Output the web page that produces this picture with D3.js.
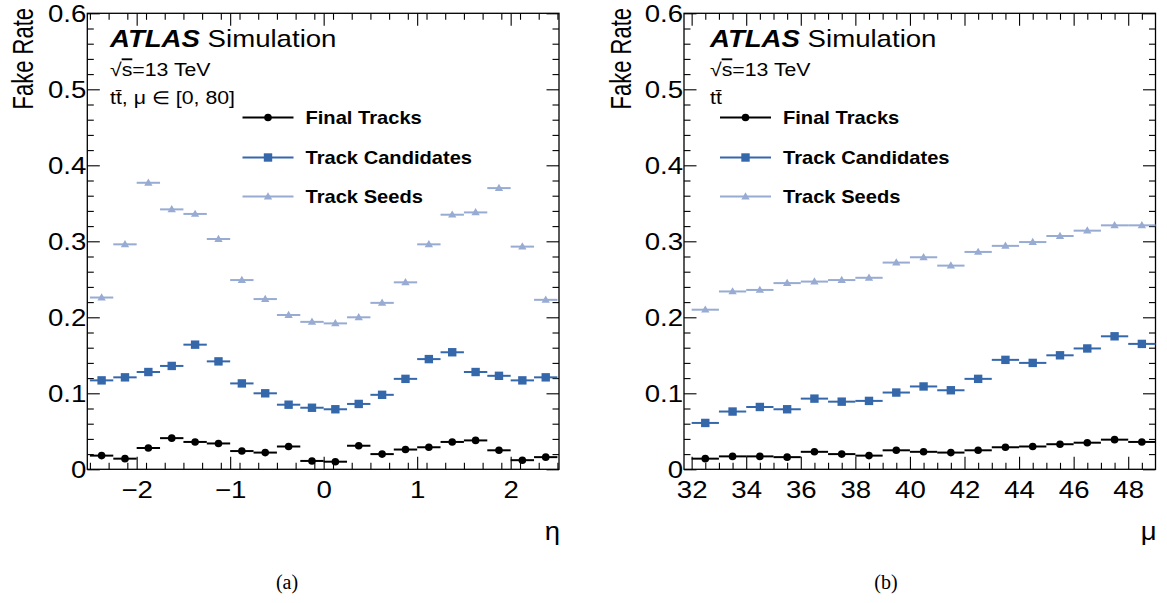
<!DOCTYPE html>
<html>
<head>
<meta charset="utf-8">
<script src="https://cdn.jsdelivr.net/npm/d3@7"></script>
<style>
  html, body { margin: 0; padding: 0; background: #fff; }
  svg { display: block; }
  text { font-family: "Liberation Sans", Arial, Helvetica, sans-serif; fill: #000; }
</style>
</head>
<body>
<svg id="chart" width="1167" height="603"></svg>
<script>
// ---- data: fake rate vs eta (20 bins, width 0.25) ----
const etaBinLow = [-2.5, -2.25, -2.0, -1.75, -1.5, -1.25, -1.0, -0.75, -0.5, -0.25,
                   0.0, 0.25, 0.5, 0.75, 1.0, 1.25, 1.5, 1.75, 2.0, 2.25];
const etaBinWidth = 0.25;
const etaFinal = [0.018, 0.014, 0.028, 0.041, 0.036, 0.034, 0.024, 0.022, 0.030, 0.011,
                  0.010, 0.031, 0.020, 0.026, 0.029, 0.036, 0.038, 0.025, 0.012, 0.016];
const etaCandidates = [0.117, 0.121, 0.128, 0.136, 0.164, 0.142, 0.113, 0.100, 0.085, 0.081,
                       0.079, 0.086, 0.098, 0.119, 0.145, 0.154, 0.128, 0.123, 0.117, 0.121];
const etaSeeds = [0.226, 0.296, 0.377, 0.342, 0.336, 0.303, 0.249, 0.224, 0.203, 0.194,
                  0.192, 0.200, 0.219, 0.246, 0.296, 0.335, 0.338, 0.370, 0.293, 0.223];

// ---- data: fake rate vs pile-up mu (17 bins, width 1) ----
const muBinLow = [32, 33, 34, 35, 36, 37, 38, 39, 40, 41, 42, 43, 44, 45, 46, 47, 48];
const muBinWidth = 1;
const muFinal = [0.014, 0.017, 0.017, 0.016, 0.023, 0.020, 0.018, 0.025, 0.023,
                 0.022, 0.025, 0.029, 0.030, 0.033, 0.035, 0.039, 0.036];
const muCandidates = [0.061, 0.076, 0.082, 0.079, 0.093, 0.089, 0.090, 0.101, 0.109,
                      0.104, 0.119, 0.144, 0.140, 0.150, 0.159, 0.175, 0.165];
const muSeeds = [0.210, 0.234, 0.236, 0.245, 0.247, 0.249, 0.252, 0.272, 0.279,
                 0.268, 0.286, 0.294, 0.299, 0.307, 0.314, 0.321, 0.321];

// ---- tick labels ----
const yMajorTicks = [0, 0.1, 0.2, 0.3, 0.4, 0.5, 0.6];
const etaMajorTicks = [-2, -1, 0, 1, 2];
const muMajorTicks = [32, 34, 36, 38, 40, 42, 44, 46, 48];

const seriesNames = ["Final Tracks", "Track Candidates", "Track Seeds"];
const seriesColors = ["#000000", "#3567ab", "#97abd3"];
const seriesMarkers = ["circle", "square", "triangle"];

const svg = d3.select("#chart");
const SX = 1.15; // horizontal stretch of the ROOT-style glyphs
const TICK_FONT = 24;

function addText(g, x, y, str, size, opts = {}) {
  const t = g.append("text")
    .attr("transform", `translate(${x},${y}) scale(${opts.sx || SX},1)` + (opts.rotate ? ` rotate(${opts.rotate})` : ""))
    .attr("font-size", size)
    .attr("text-anchor", opts.anchor || "start");
  if (opts.weight) t.attr("font-weight", opts.weight);
  if (opts.style) t.attr("font-style", opts.style);
  if (opts.family) t.style("font-family", opts.family);
  t.text(str);
  return t;
}

function drawMarker(g, kind, cx, cy, color) {
  if (kind === "circle") {
    g.append("circle").attr("cx", cx).attr("cy", cy).attr("r", 3.8).attr("fill", color);
  } else if (kind === "square") {
    g.append("rect").attr("x", cx - 4.2).attr("y", cy - 4.2).attr("width", 8.4).attr("height", 8.4).attr("fill", color);
  } else {
    const s = d3.symbol().type(d3.symbolTriangle).size(30);
    g.append("path").attr("d", s()).attr("transform", `translate(${cx},${cy + 0.5})`).attr("fill", color);
  }
}

function panel(cfg) {
  const g = svg.append("g");
  const x = d3.scaleLinear().domain(cfg.domain).range([cfg.left, cfg.right]);
  const y = d3.scaleLinear().domain([0, 0.6]).range([cfg.bottom, cfg.top]);

  const tickStyle = sel => {
    sel.select(".domain").remove();
    sel.selectAll("line").attr("stroke", "#000").attr("stroke-width", 1.1);
  };

  // y axis ticks: minor every 0.02, major every 0.1, on both sides
  const yMinor = d3.range(0, 61, 2).map(d => d / 100).filter(d => !yMajorTicks.some(m => Math.abs(m - d) < 1e-9));
  g.append("g").attr("transform", `translate(${cfg.left},0)`)
    .call(d3.axisLeft(y).tickValues(yMinor).tickSize(-6.5).tickFormat("")).call(tickStyle);
  g.append("g").attr("transform", `translate(${cfg.right},0)`)
    .call(d3.axisRight(y).tickValues(yMinor).tickSize(-6.5).tickFormat("")).call(tickStyle);
  g.append("g").attr("transform", `translate(${cfg.right},0)`)
    .call(d3.axisRight(y).tickValues(yMajorTicks).tickSize(-12.5).tickFormat("")).call(tickStyle);
  const yAx = g.append("g").attr("transform", `translate(${cfg.left},0)`)
    .call(d3.axisLeft(y).tickValues(yMajorTicks).tickSize(-12.5)
      .tickFormat(d => d === 0 ? "0" : d3.format(".1f")(d)).tickPadding(4))
    .call(tickStyle);
  yAx.selectAll("text").each(function () {
    d3.select(this).attr("x", null).attr("dy", null)
     .attr("transform", `translate(-1,8.6) scale(${SX},1)`)
     .attr("font-size", TICK_FONT).attr("fill", "#000").attr("text-anchor", "end")
     .style("font-family", "\"Liberation Sans\", Arial, sans-serif");
  });

  // x axis ticks: bottom and top
  const xMinor = cfg.minorTicks.filter(d => !cfg.majorTicks.includes(d));
  g.append("g").attr("transform", `translate(0,${cfg.bottom})`)
    .call(d3.axisBottom(x).tickValues(xMinor).tickSize(-6.5).tickFormat("")).call(tickStyle);
  g.append("g").attr("transform", `translate(0,${cfg.top})`)
    .call(d3.axisTop(x).tickValues(xMinor).tickSize(-6.5).tickFormat("")).call(tickStyle);
  g.append("g").attr("transform", `translate(0,${cfg.top})`)
    .call(d3.axisTop(x).tickValues(cfg.majorTicks).tickSize(-12.5).tickFormat("")).call(tickStyle);
  const xAx = g.append("g").attr("transform", `translate(0,${cfg.bottom})`)
    .call(d3.axisBottom(x).tickValues(cfg.majorTicks).tickSize(-12.5).tickFormat(cfg.fmt))
    .call(tickStyle);
  xAx.selectAll("text").each(function () {
    d3.select(this).attr("y", null).attr("dy", null)
      .attr("transform", `translate(0,29) scale(${SX},1)`)
      .attr("font-size", TICK_FONT).attr("fill", "#000")
      .style("font-family", "\"Liberation Sans\", Arial, sans-serif");
  });

  // frame
  g.append("rect").attr("x", cfg.left).attr("y", cfg.top)
    .attr("width", cfg.right - cfg.left).attr("height", cfg.bottom - cfg.top)
    .attr("fill", "none").attr("stroke", "#000").attr("stroke-width", 1.3);

  // data: bin-width bars with markers, drawn seeds first
  [2, 1, 0].forEach(si => {
    const vals = cfg.series[si];
    const col = seriesColors[si];
    const sg = g.append("g");
    vals.forEach((v, i) => {
      const lo = cfg.binLow[i], hi = lo + cfg.binWidth;
      sg.append("line").attr("x1", x(lo)).attr("x2", x(hi))
        .attr("y1", y(v)).attr("y2", y(v))
        .attr("stroke", col).attr("stroke-width", 2);
      drawMarker(sg, seriesMarkers[si], x(lo + cfg.binWidth / 2), y(v), col);
    });
  });

  // legend
  const lg = g.append("g");
  seriesNames.forEach((name, i) => {
    const ly = cfg.legendY[i];
    lg.append("line").attr("x1", cfg.legendX).attr("x2", cfg.legendX + 51)
      .attr("y1", ly).attr("y2", ly).attr("stroke", seriesColors[i]).attr("stroke-width", 2);
    drawMarker(lg, seriesMarkers[i], cfg.legendX + 25.5, ly, seriesColors[i]);
    addText(lg, cfg.legendX + 63, ly + 6.3, name, 17.5, { weight: "bold" });
  });

  // ATLAS label and conditions
  const at = g.append("text")
    .attr("transform", `translate(${cfg.textX},${47}) scale(${SX},1)`)
    .attr("font-size", 24);
  at.append("tspan").attr("font-weight", "bold").attr("font-style", "italic").text("ATLAS");
  at.append("tspan").text(" Simulation");

  const rs = g.append("text")
    .attr("transform", `translate(${cfg.textX},${76}) scale(${SX},1)`)
    .attr("font-size", 18.5);
  rs.append("tspan").text("\u221A");
  rs.append("tspan").style("text-decoration", "overline").text("s");
  rs.append("tspan").text("=13 TeV");

  addText(g, cfg.textX, 104, cfg.sampleText, 18.5);

  // axis titles
  addText(g, cfg.titleX, 8, "Fake Rate", 22, { anchor: "end", rotate: -90, sx: 1.3 });
  addText(g, cfg.right + 1, 540, cfg.xTitle, 25, { anchor: "end", sx: 1.1 });

  // sub-figure caption
  addText(g, cfg.captionX, 589, cfg.caption, 20, { anchor: "middle", sx: 1.0, family: "\"Liberation Serif\", \"Times New Roman\", serif" });
}

panel({
  left: 87.3, right: 559, top: 13.3, bottom: 469.3,
  domain: [-2.528, 2.517],
  binLow: etaBinLow, binWidth: etaBinWidth,
  series: [etaFinal, etaCandidates, etaSeeds],
  majorTicks: etaMajorTicks,
  minorTicks: d3.range(-25, 26, 2).map(d => d / 10),
  fmt: d => d < 0 ? "\u2212" + Math.abs(d) : String(d),
  legendX: 242.5, legendY: [117.5, 157.5, 196.5],
  textX: 110, sampleText: "tt\u0304, \u03BC \u2208 [0, 80]",
  titleX: 33, xTitle: "\u03B7", caption: "(a)", captionX: 287
});

panel({
  left: 684, right: 1155.5, top: 13.3, bottom: 469.3,
  domain: [31.72, 49],
  binLow: muBinLow, binWidth: muBinWidth,
  series: [muFinal, muCandidates, muSeeds],
  majorTicks: muMajorTicks,
  minorTicks: d3.range(64, 98, 1).map(d => d / 2),
  fmt: d => String(d),
  legendX: 720, legendY: [117.5, 157.5, 196.5],
  textX: 710, sampleText: "tt\u0304",
  titleX: 631, xTitle: "\u03BC", caption: "(b)", captionX: 886
});
</script>
</body>
</html>
